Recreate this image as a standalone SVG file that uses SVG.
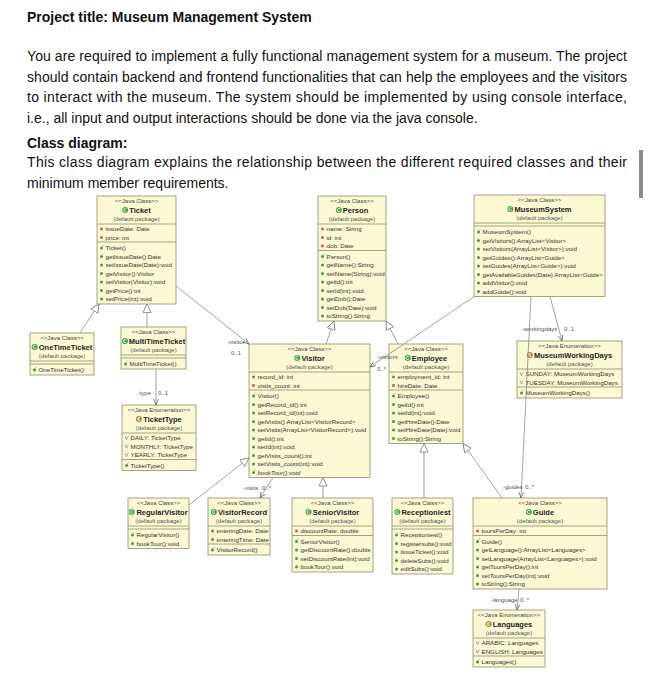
<svg xmlns="http://www.w3.org/2000/svg" width="652" height="700" viewBox="0 0 652 700">
<style>
.bx{fill:#FBF9D4;stroke:#928F63;stroke-width:.8}
.sp{stroke:#928F63;stroke-width:.8}
.st{font-family:"Liberation Sans",Arial,sans-serif;font-size:6px;fill:#444;text-anchor:middle}
.nm{font-family:"Liberation Sans",Arial,sans-serif;font-size:7.5px;font-weight:bold;fill:#222;text-anchor:middle}
.pk{font-family:"Liberation Sans",Arial,sans-serif;font-size:6px;fill:#555;text-anchor:middle}
.t{font-family:"Liberation Sans",Arial,sans-serif;font-size:6.2px;fill:#333}
.ti{font-family:"Liberation Sans",Arial,sans-serif;font-size:6.2px;fill:#333;font-style:italic}
.lb{font-family:"Liberation Sans",Arial,sans-serif;font-size:6px;fill:#555}
.ln{fill:none;stroke:#8a8a8a;stroke-width:.8}
.hd{font-family:"Liberation Sans",Arial,sans-serif;font-size:14px;font-weight:bold;fill:#111}
.bd{font-family:"Liberation Sans",Arial,sans-serif;font-size:14px;fill:#111}
</style>
<defs>
<g id="f"><rect x="-1.3" y="-1.3" width="2.6" height="2.6" fill="#D2553A"/></g>
<g id="m"><circle r="1.5" fill="#3E9E3E"/></g>
<g id="c"><circle r="1.5" fill="#3E9E3E"/><path d="M0.6,-1.3 L2,-3" stroke="#3E9E3E" stroke-width=".6"/></g>
<g id="e"><path d="M-1.6,-1.8 L0,1.6 L1.6,-1.8" fill="none" stroke="#6B7FA8" stroke-width=".7"/></g>
<g id="ci"><circle r="3" fill="#47A447"/><path d="M1.2,-1.1 A1.6,1.6 0 1 0 1.2,1.1" fill="none" stroke="#fff" stroke-width=".8"/></g>
<g id="ei"><circle r="3" fill="#A88B3A"/><path d="M1.1,-1.4 H-1 V1.4 H1.1 M-1,0 H0.8" fill="none" stroke="#fff" stroke-width=".7"/></g>
<marker id="tri" viewBox="0 0 10 10" refX="10" refY="5" markerWidth="9" markerHeight="9" orient="auto" markerUnits="userSpaceOnUse"><path d="M0.5,0.5 L10,5 L0.5,9.5 Z" fill="#fff" stroke="#777" stroke-width="0.9"/></marker>
<marker id="arr" viewBox="0 0 10 10" refX="10" refY="5" markerWidth="6" markerHeight="6" orient="auto" markerUnits="userSpaceOnUse"><path d="M0,1 L10,5 L0,9" fill="none" stroke="#666" stroke-width="1.3"/></marker>
</defs>
<rect width="652" height="700" fill="#fff"/>

<g id="heading">
<text class="hd" x="27" y="22">Project title: Museum Management System</text>
<text class="bd" x="27" y="61" textLength="600">You are required to implement a fully functional management system for a museum. The project</text>
<text class="bd" x="27" y="82" textLength="600">should contain backend and frontend functionalities that can help the employees and the visitors</text>
<text class="bd" x="27" y="102" textLength="600">to interact with the museum. The system should be implemented by using console interface,</text>
<text class="bd" x="27" y="123">i.e., all input and output interactions should be done via the java console.</text>
<text class="hd" x="27" y="148">Class diagram:</text>
<text class="bd" x="27" y="167" textLength="600">This class diagram explains the relationship between the different required classes and their</text>
<text class="bd" x="27" y="188">minimum member requirements.</text>
<rect x="639" y="150" width="4" height="48" fill="#8c8c8c"/>
</g>

<g id="Ticket" transform="translate(97,196)">
<rect class="bx" width="79" height="108"/>
<text class="st" x="39.5" y="6.7">&lt;&lt;Java Class&gt;&gt;</text>
<use href="#ci" x="28.2" y="14"/><text class="nm" x="43" y="16.7">Ticket</text>
<text class="pk" x="39.5" y="25.1">(default package)</text>
<line class="sp" x1="0" y1="28" x2="79" y2="28"/>
<use href="#f" x="4.5" y="33"/><text class="t" x="8.5" y="35.2">issueDate: Date</text>
<use href="#f" x="4.5" y="41.5"/><text class="t" x="8.5" y="43.7">price: int</text>
<line class="sp" x1="0" y1="46" x2="79" y2="46"/>
<use href="#c" x="4.5" y="52"/><text class="t" x="8.5" y="54.2">Ticket()</text>
<use href="#m" x="4.5" y="60.5"/><text class="t" x="8.5" y="62.7">getIssueDate():Date</text>
<use href="#m" x="4.5" y="69"/><text class="t" x="8.5" y="71.2">setIssueDate(Date):void</text>
<use href="#m" x="4.5" y="77.5"/><text class="t" x="8.5" y="79.7">getVisitor():Visitor</text>
<use href="#m" x="4.5" y="86"/><text class="t" x="8.5" y="88.2">setVisitor(Visitor):void</text>
<use href="#m" x="4.5" y="94.5"/><text class="t" x="8.5" y="96.7">getPrice():int</text>
<use href="#m" x="4.5" y="103"/><text class="t" x="8.5" y="105.2">setPrice(int):void</text>
</g>

<g id="Person" transform="translate(318,196)">
<rect class="bx" width="68" height="125"/>
<text class="st" x="34" y="6.7">&lt;&lt;Java Class&gt;&gt;</text>
<use href="#ci" x="20.8" y="14"/><text class="nm" x="37.5" y="16.7">Person</text>
<text class="pk" x="34" y="25.1">(default package)</text>
<line class="sp" x1="0" y1="28" x2="68" y2="28"/>
<use href="#f" x="4.5" y="33"/><text class="t" x="8.5" y="35.2">name: String</text>
<use href="#f" x="4.5" y="41.5"/><text class="t" x="8.5" y="43.7">id: int</text>
<use href="#f" x="4.5" y="50"/><text class="t" x="8.5" y="52.2">dob: Date</text>
<line class="sp" x1="0" y1="54.5" x2="68" y2="54.5"/>
<use href="#c" x="4.5" y="60.5"/><text class="t" x="8.5" y="62.7">Person()</text>
<use href="#m" x="4.5" y="69"/><text class="t" x="8.5" y="71.2">getName():String</text>
<use href="#m" x="4.5" y="77.5"/><text class="t" x="8.5" y="79.7">setName(String):void</text>
<use href="#m" x="4.5" y="86"/><text class="t" x="8.5" y="88.2">getId():int</text>
<use href="#m" x="4.5" y="94.5"/><text class="t" x="8.5" y="96.7">setId(int):void</text>
<use href="#m" x="4.5" y="103"/><text class="t" x="8.5" y="105.2">getDob():Date</text>
<use href="#m" x="4.5" y="111.5"/><text class="t" x="8.5" y="113.7">setDob(Date):void</text>
<use href="#m" x="4.5" y="120"/><text class="t" x="8.5" y="122.2">toString():String</text>
</g>

<g id="MuseumSystem" transform="translate(474,195)">
<rect class="bx" width="131" height="101.5"/>
<text class="st" x="65.5" y="6.7">&lt;&lt;Java Class&gt;&gt;</text>
<use href="#ci" x="36.4" y="14"/><text class="nm" x="69" y="16.7">MuseumSystem</text>
<text class="pk" x="65.5" y="25.1">(default package)</text>
<line class="sp" x1="0" y1="28" x2="131" y2="28"/>
<line class="sp" x1="0" y1="31" x2="131" y2="31"/>
<use href="#c" x="4.5" y="37"/><text class="t" x="8.5" y="39.2">MuseumSystem()</text>
<use href="#m" x="4.5" y="45.5"/><text class="t" x="8.5" y="47.7">getVisitors():ArrayList&lt;Visitor&gt;</text>
<use href="#m" x="4.5" y="54"/><text class="t" x="8.5" y="56.2">setVisitors(ArrayList&lt;Visitor&gt;):void</text>
<use href="#m" x="4.5" y="62.5"/><text class="t" x="8.5" y="64.7">getGuides():ArrayList&lt;Guide&gt;</text>
<use href="#m" x="4.5" y="71"/><text class="t" x="8.5" y="73.2">setGuides(ArrayList&lt;Guide&gt;):void</text>
<use href="#m" x="4.5" y="79.5"/><text class="t" x="8.5" y="81.7">getAvailableGuides(Date):ArrayList&lt;Guide&gt;</text>
<use href="#m" x="4.5" y="88"/><text class="t" x="8.5" y="90.2">addVisitor():void</text>
<use href="#m" x="4.5" y="96.5"/><text class="t" x="8.5" y="98.7">addGuide():void</text>
</g>

<g id="OneTimeTicket" transform="translate(30,333)">
<rect class="bx" width="64" height="42"/>
<text class="st" x="32" y="6.7">&lt;&lt;Java Class&gt;&gt;</text>
<use href="#ci" x="4.6" y="14"/><text class="nm" x="35.5" y="16.7">OneTimeTicket</text>
<text class="pk" x="32" y="25.1">(default package)</text>
<line class="sp" x1="0" y1="28" x2="64" y2="28"/>
<line class="sp" x1="0" y1="31" x2="64" y2="31"/>
<use href="#c" x="4.5" y="37"/><text class="t" x="8.5" y="39.2">OneTimeTicket()</text>
</g>

<g id="MultiTimeTicket" transform="translate(121,327)">
<rect class="bx" width="65" height="42"/>
<text class="st" x="32.5" y="6.7">&lt;&lt;Java Class&gt;&gt;</text>
<use href="#ci" x="4" y="14"/><text class="nm" x="36" y="16.7">MultiTimeTicket</text>
<text class="pk" x="32.5" y="25.1">(default package)</text>
<line class="sp" x1="0" y1="28" x2="65" y2="28"/>
<line class="sp" x1="0" y1="31" x2="65" y2="31"/>
<use href="#c" x="4.5" y="37"/><text class="t" x="8.5" y="39.2">MultiTimeTicket()</text>
</g>

<g id="TicketType" transform="translate(122,405)">
<rect class="bx" width="74" height="65.5"/>
<text class="st" x="37" y="6.7">&lt;&lt;Java Enumeration&gt;&gt;</text>
<use href="#ei" x="16.9" y="14"/><text class="nm" x="40.5" y="16.7">TicketType</text>
<text class="pk" x="37" y="25.1">(default package)</text>
<line class="sp" x1="0" y1="28" x2="74" y2="28"/>
<use href="#e" x="4.5" y="33"/><text class="t" x="8.5" y="35.2">DAILY: TicketType</text>
<use href="#e" x="4.5" y="41.5"/><text class="t" x="8.5" y="43.7">MONTHLY: TicketType</text>
<use href="#e" x="4.5" y="50"/><text class="t" x="8.5" y="52.2">YEARLY: TicketType</text>
<line class="sp" x1="0" y1="54.5" x2="74" y2="54.5"/>
<use href="#c" x="4.5" y="60.5"/><text class="t" x="8.5" y="62.7">TicketType()</text>
</g>

<g id="Visitor" transform="translate(249,344)">
<rect class="bx" width="121" height="133.5"/>
<text class="st" x="60.5" y="6.7">&lt;&lt;Java Class&gt;&gt;</text>
<use href="#ci" x="48.3" y="14"/><text class="nm" x="64" y="16.7">Visitor</text>
<text class="pk" x="60.5" y="25.1">(default package)</text>
<line class="sp" x1="0" y1="28" x2="121" y2="28"/>
<use href="#f" x="4.5" y="33"/><text class="t" x="8.5" y="35.2">record_id: int</text>
<use href="#f" x="4.5" y="41.5"/><text class="t" x="8.5" y="43.7">visits_count: int</text>
<line class="sp" x1="0" y1="46" x2="121" y2="46"/>
<use href="#c" x="4.5" y="52"/><text class="t" x="8.5" y="54.2">Visitor()</text>
<use href="#m" x="4.5" y="60.5"/><text class="t" x="8.5" y="62.7">getRecord_id():int</text>
<use href="#m" x="4.5" y="69"/><text class="t" x="8.5" y="71.2">setRecord_id(int):void</text>
<use href="#m" x="4.5" y="77.5"/><text class="t" x="8.5" y="79.7">getVisits():ArrayList&lt;VisitorRecord&gt;</text>
<use href="#m" x="4.5" y="86"/><text class="t" x="8.5" y="88.2">setVisits(ArrayList&lt;VisitorRecord&gt;):void</text>
<use href="#m" x="4.5" y="94.5"/><text class="t" x="8.5" y="96.7">getId():int</text>
<use href="#m" x="4.5" y="103"/><text class="t" x="8.5" y="105.2">setId(int):void</text>
<use href="#m" x="4.5" y="111.5"/><text class="t" x="8.5" y="113.7">getVisits_count():int</text>
<use href="#m" x="4.5" y="120"/><text class="t" x="8.5" y="122.2">setVisits_count(int):void</text>
<use href="#c" x="4.5" y="128.5"/><text class="ti" x="8.5" y="130.7">bookTour():void</text>
</g>

<g id="Employee" transform="translate(389,344)">
<rect class="bx" width="74" height="99.5"/>
<text class="st" x="37" y="6.7">&lt;&lt;Java Class&gt;&gt;</text>
<use href="#ci" x="18.8" y="14"/><text class="nm" x="40.5" y="16.7">Employee</text>
<text class="pk" x="37" y="25.1">(default package)</text>
<line class="sp" x1="0" y1="28" x2="74" y2="28"/>
<use href="#f" x="4.5" y="33"/><text class="t" x="8.5" y="35.2">employment_id: int</text>
<use href="#f" x="4.5" y="41.5"/><text class="t" x="8.5" y="43.7">hireDate: Date</text>
<line class="sp" x1="0" y1="46" x2="74" y2="46"/>
<use href="#c" x="4.5" y="52"/><text class="t" x="8.5" y="54.2">Employee()</text>
<use href="#m" x="4.5" y="60.5"/><text class="t" x="8.5" y="62.7">getId():int</text>
<use href="#m" x="4.5" y="69"/><text class="t" x="8.5" y="71.2">setId(int):void</text>
<use href="#m" x="4.5" y="77.5"/><text class="t" x="8.5" y="79.7">getHireDate():Date</text>
<use href="#m" x="4.5" y="86"/><text class="t" x="8.5" y="88.2">setHireDate(Date):void</text>
<use href="#m" x="4.5" y="94.5"/><text class="t" x="8.5" y="96.7">toString():String</text>
</g>

<g id="MuseumWorkingDays" transform="translate(517,341)">
<rect class="bx" width="105" height="57"/>
<text class="st" x="52.5" y="6.7">&lt;&lt;Java Enumeration&gt;&gt;</text>
<use href="#ei" x="12.8" y="14"/><text class="nm" x="56" y="16.7">MuseumWorkingDays</text>
<text class="pk" x="52.5" y="25.1">(default package)</text>
<line class="sp" x1="0" y1="28" x2="105" y2="28"/>
<use href="#e" x="4.5" y="33"/><text class="t" x="8.5" y="35.2">SUNDAY: MuseumWorkingDays</text>
<use href="#e" x="4.5" y="41.5"/><text class="t" x="8.5" y="43.7">TUESDAY: MuseumWorkingDays</text>
<line class="sp" x1="0" y1="46" x2="105" y2="46"/>
<use href="#c" x="4.5" y="52"/><text class="t" x="8.5" y="54.2">MuseumWorkingDays()</text>
</g>

<g id="RegularVisitor" transform="translate(128,498)">
<rect class="bx" width="61" height="50.5"/>
<text class="st" x="30.5" y="6.7">&lt;&lt;Java Class&gt;&gt;</text>
<use href="#ci" x="3.6" y="14"/><text class="nm" x="34" y="16.7">RegularVisitor</text>
<text class="pk" x="30.5" y="25.1">(default package)</text>
<line class="sp" x1="0" y1="28" x2="61" y2="28"/>
<line class="sp" x1="0" y1="31" x2="61" y2="31"/>
<use href="#c" x="4.5" y="37"/><text class="t" x="8.5" y="39.2">RegularVisitor()</text>
<use href="#m" x="4.5" y="45.5"/><text class="t" x="8.5" y="47.7">bookTour():void</text>
</g>

<g id="VisitorRecord" transform="translate(208,498)">
<rect class="bx" width="62" height="57"/>
<text class="st" x="31" y="6.7">&lt;&lt;Java Class&gt;&gt;</text>
<use href="#ci" x="5.9" y="14"/><text class="nm" x="34.5" y="16.7">VisitorRecord</text>
<text class="pk" x="31" y="25.1">(default package)</text>
<line class="sp" x1="0" y1="28" x2="62" y2="28"/>
<use href="#f" x="4.5" y="33"/><text class="t" x="8.5" y="35.2">enteringDate: Date</text>
<use href="#f" x="4.5" y="41.5"/><text class="t" x="8.5" y="43.7">enteringTime: Date</text>
<line class="sp" x1="0" y1="46" x2="62" y2="46"/>
<use href="#c" x="4.5" y="52"/><text class="t" x="8.5" y="54.2">VisitorRecord()</text>
</g>

<g id="SeniorVisitor" transform="translate(292,498)">
<rect class="bx" width="81" height="74"/>
<text class="st" x="40.5" y="6.7">&lt;&lt;Java Class&gt;&gt;</text>
<use href="#ci" x="16.6" y="14"/><text class="nm" x="44" y="16.7">SeniorVisitor</text>
<text class="pk" x="40.5" y="25.1">(default package)</text>
<line class="sp" x1="0" y1="28" x2="81" y2="28"/>
<use href="#f" x="4.5" y="33"/><text class="t" x="8.5" y="35.2">discountRate: double</text>
<line class="sp" x1="0" y1="37.5" x2="81" y2="37.5"/>
<use href="#c" x="4.5" y="43.5"/><text class="t" x="8.5" y="45.7">SeniorVisitor()</text>
<use href="#m" x="4.5" y="52"/><text class="t" x="8.5" y="54.2">getDiscountRate():double</text>
<use href="#m" x="4.5" y="60.5"/><text class="t" x="8.5" y="62.7">setDiscountRate(int):void</text>
<use href="#m" x="4.5" y="69"/><text class="t" x="8.5" y="71.2">bookTour():void</text>
</g>

<g id="Receptioniest" transform="translate(392,498)">
<rect class="bx" width="61" height="76"/>
<text class="st" x="30.5" y="6.7">&lt;&lt;Java Class&gt;&gt;</text>
<use href="#ci" x="5.4" y="14"/><text class="nm" x="34" y="16.7">Receptioniest</text>
<text class="pk" x="30.5" y="25.1">(default package)</text>
<line class="sp" x1="0" y1="28" x2="61" y2="28"/>
<line class="sp" x1="0" y1="31" x2="61" y2="31"/>
<use href="#c" x="4.5" y="37"/><text class="t" x="8.5" y="39.2">Receptioniest()</text>
<use href="#m" x="4.5" y="45.5"/><text class="t" x="8.5" y="47.7">registersubs():void</text>
<use href="#m" x="4.5" y="54"/><text class="t" x="8.5" y="56.2">issueTicket():void</text>
<use href="#m" x="4.5" y="62.5"/><text class="t" x="8.5" y="64.7">deleteSubs():void</text>
<use href="#m" x="4.5" y="71"/><text class="t" x="8.5" y="73.2">editSubs():void</text>
</g>

<g id="Guide" transform="translate(473,498)">
<rect class="bx" width="134" height="91"/>
<text class="st" x="67" y="6.7">&lt;&lt;Java Class&gt;&gt;</text>
<use href="#ci" x="55.8" y="14"/><text class="nm" x="70.5" y="16.7">Guide</text>
<text class="pk" x="67" y="25.1">(default package)</text>
<line class="sp" x1="0" y1="28" x2="134" y2="28"/>
<use href="#f" x="4.5" y="33"/><text class="t" x="8.5" y="35.2">toursPerDay: int</text>
<line class="sp" x1="0" y1="37.5" x2="134" y2="37.5"/>
<use href="#c" x="4.5" y="43.5"/><text class="t" x="8.5" y="45.7">Guide()</text>
<use href="#m" x="4.5" y="52"/><text class="t" x="8.5" y="54.2">getLanguage():ArrayList&lt;Languages&gt;</text>
<use href="#m" x="4.5" y="60.5"/><text class="t" x="8.5" y="62.7">setLanguage(ArrayList&lt;Languages&gt;):void</text>
<use href="#m" x="4.5" y="69"/><text class="t" x="8.5" y="71.2">getToursPerDay():int</text>
<use href="#m" x="4.5" y="77.5"/><text class="t" x="8.5" y="79.7">setToursPerDay(int):void</text>
<use href="#m" x="4.5" y="86"/><text class="t" x="8.5" y="88.2">toString():String</text>
</g>

<g id="Languages" transform="translate(473,610)">
<rect class="bx" width="72" height="57"/>
<text class="st" x="36" y="6.7">&lt;&lt;Java Enumeration&gt;&gt;</text>
<use href="#ei" x="15.7" y="14"/><text class="nm" x="39.5" y="16.7">Languages</text>
<text class="pk" x="36" y="25.1">(default package)</text>
<line class="sp" x1="0" y1="28" x2="72" y2="28"/>
<use href="#e" x="4.5" y="33"/><text class="t" x="8.5" y="35.2">ARABIC: Languages</text>
<use href="#e" x="4.5" y="41.5"/><text class="t" x="8.5" y="43.7">ENGLISH: Languages</text>
<line class="sp" x1="0" y1="46" x2="72" y2="46"/>
<use href="#c" x="4.5" y="52"/><text class="t" x="8.5" y="54.2">Languages()</text>
</g>

<g id="connectors" class="ln">
<line x1="80" y1="333" x2="99" y2="304" marker-end="url(#tri)"/>
<line x1="147" y1="327" x2="147" y2="304" marker-end="url(#tri)"/>
<line x1="156" y1="369" x2="156" y2="405" marker-end="url(#arr)"/>
<line x1="176" y1="286" x2="249" y2="344" marker-end="url(#arr)"/>
<line x1="326" y1="344" x2="334" y2="321" marker-end="url(#tri)"/>
<line x1="398" y1="344" x2="386" y2="321" marker-end="url(#tri)"/>
<line x1="474" y1="296.5" x2="370" y2="367" marker-end="url(#arr)"/>
<line x1="550" y1="296.5" x2="562" y2="341" marker-end="url(#arr)"/>
<line x1="531" y1="296.5" x2="521" y2="498" marker-end="url(#arr)"/>
<line x1="502" y1="498" x2="463" y2="443.5" marker-end="url(#tri)"/>
<line x1="424" y1="498" x2="424" y2="443.5" marker-end="url(#tri)"/>
<line x1="323" y1="498" x2="323" y2="477.5" marker-end="url(#tri)"/>
<line x1="189" y1="505" x2="249" y2="458" marker-end="url(#tri)"/>
<line x1="273" y1="477.5" x2="260" y2="498" marker-end="url(#arr)"/>
<line x1="519" y1="589" x2="517" y2="610" marker-end="url(#arr)"/>
</g>
<g id="connector-labels">
<text class="lb" x="151" y="395" text-anchor="end">-type</text><text class="lb" x="158" y="395">0..1</text>
<text class="lb" x="227" y="344">-visitor</text><text class="lb" x="231" y="355">0..1</text>
<text class="lb" x="377" y="359">-visitors</text><text class="lb" x="377" y="371">0..*</text>
<text class="lb" x="522" y="331">-workingdays</text><text class="lb" x="564" y="331">0..1</text>
<text class="lb" x="503" y="489">-guides</text><text class="lb" x="525" y="489">0..*</text>
<text class="lb" x="243" y="490">-visits</text><text class="lb" x="262" y="490">0..*</text>
<text class="lb" x="491" y="602">-language</text><text class="lb" x="520" y="602">0..*</text>
</g>
</svg>
